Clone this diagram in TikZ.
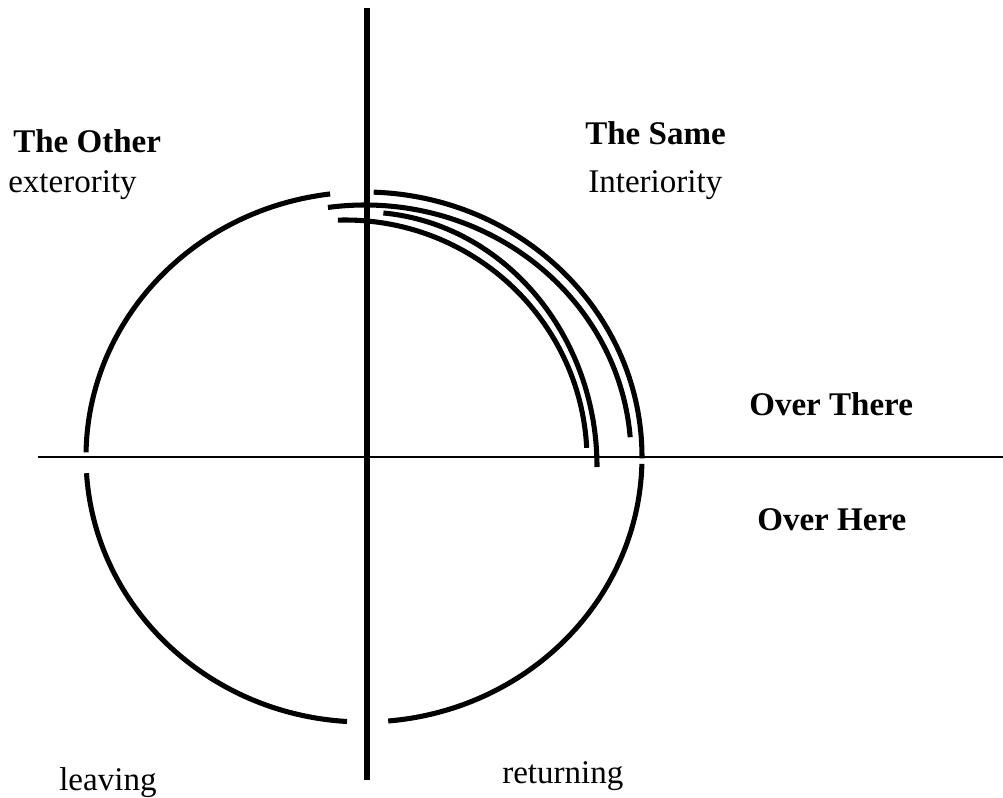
\documentclass[tikz,border=0pt]{standalone}
\usepackage{fontspec}
\setmainfont{Liberation Serif}
\usepackage{tikz}
\usetikzlibrary{positioning}
\tikzstyle{rim}      = [line width=3.6pt]
\tikzstyle{vaxis}    = [line width=4.2pt]
\tikzstyle{haxis}    = [line width=1.7pt]
\tikzstyle{label}    = [anchor=base west, inner sep=0pt, font=\fontsize{23.5}{28}\selectfont]
\tikzstyle{boldlabel}= [label, font=\fontsize{23.5}{28}\selectfont\bfseries]

\begin{document}
\begin{tikzpicture}[x=0.025cm, y=0.025cm]
  \useasboundingbox (0,0) rectangle (1003,797);

  % Centre of the big circle
  \coordinate (O) at (364,340);

  % Axes
  \coordinate (top)    at (367,789);
  \coordinate (bottom) at (367,17);
  \coordinate (left)   at (38,340);
  \coordinate (right)  at (1003,340);
  \draw[vaxis] (top) -- (bottom);
  \draw[haxis] (left) -- (right);

  % Big circle, broken at the axes
  \draw[rim] (O) ++(97:278 and 265)    arc[start angle=97,    end angle=179,   x radius=278, y radius=265];
  \draw[rim] (O) ++(183.5:278 and 265) arc[start angle=183.5, end angle=266.5, x radius=278, y radius=265];
  \draw[rim] (O) ++(275:278 and 265)   arc[start angle=275,   end angle=358.5, x radius=278, y radius=265];
  \draw[rim] (O) ++(88:278 and 265)    arc[start angle=88,    end angle=-0.3,  x radius=278, y radius=265];

  % Inner arcs
  \coordinate (Ob) at (365,340);
  \coordinate (Oc) at (363,330);
  \coordinate (Od) at (345,337);
  \draw[rim] (Ob) ++(98:266 and 252)   arc[start angle=98,   end angle=4.5, x radius=266, y radius=252];
  \draw[rim] (Oc) ++(85:234 and 255)   arc[start angle=85,   end angle=0,   x radius=234, y radius=255];
  \draw[rim] (Od) ++(91.7:242 and 240) arc[start angle=91.7, end angle=2.9, x radius=242, y radius=240];

  % Labels
  \node (other)    [boldlabel] at (13,644)  {The Other};
  \node (exter)    [label]     at (8,604)   {exterority};
  \node (same)     [boldlabel] at (585,652) {The Same};
  \node (inter)    [label]     at (588,604) {Interiority};
  \node (there)    [boldlabel] at (749,382) {Over There};
  \node (here)     [boldlabel] at (757,267) {Over Here};
  \node (leaving)  [label]     at (59,7)    {leaving};
  \node (return)   [label]     at (502,14)  {returning};

\end{tikzpicture}
\end{document}
